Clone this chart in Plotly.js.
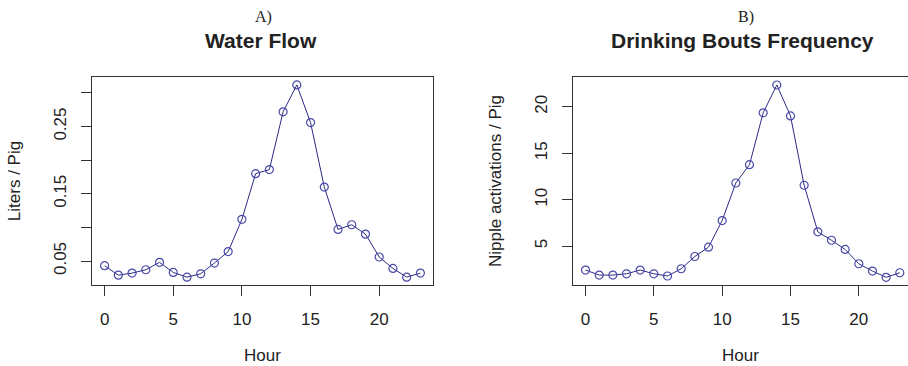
<!DOCTYPE html>
<html><head><meta charset="utf-8">
<script src="https://cdn.plot.ly/plotly-3.0.1.min.js"></script>
<style>html,body{margin:0;padding:0;background:#fff}#chart{width:908px;height:366px}</style>
</head><body><div id="chart"></div>
<script>
const hours = [0,1,2,3,4,5,6,7,8,9,10,11,12,13,14,15,16,17,18,19,20,21,22,23];
const waterFlow = [0.043,0.029,0.032,0.037,0.048,0.033,0.026,0.031,0.047,0.064,0.112,0.180,0.186,0.272,0.312,0.256,0.160,0.097,0.104,0.090,0.056,0.039,0.026,0.032];
const boutsFreq = [2.42,1.88,1.88,2.02,2.42,2.02,1.78,2.56,3.88,4.89,7.75,11.8,13.77,19.36,22.36,19.03,11.56,6.54,5.63,4.64,3.10,2.31,1.64,2.13];
const xTicks = [0,5,10,15,20];
const yTicksA = [0.05,0.10,0.15,0.20,0.25,0.30];
const yTickTextA = ['0.05','','0.15','','0.25',''];
const yTicksB = [5,10,15,20];
const yTickTextB = ['5','10','15','20'];

const lineCol = '#2b2b86';
const markCol = '#4a4aa8';
const txt = '#222';
const fnt = {family:'Liberation Sans, Arial, sans-serif', size:17, color:txt};

function trace(y, xa, ya){
  return {x:hours, y:y, xaxis:xa, yaxis:ya, type:'scatter', mode:'lines+markers',
    line:{color:lineCol, width:1},
    marker:{symbol:'circle-open', size:8, color:markCol, line:{width:1.2, color:markCol}},
    showlegend:false, hoverinfo:'x+y'};
}

const xBase = {tickmode:'array', tickvals:xTicks, ticks:'outside', ticklen:10, tickcolor:'#333',
  showline:true, linecolor:'#333', linewidth:1, mirror:true, showgrid:false, zeroline:false,
  tickfont:fnt, ticklabelstandoff:9,
  title:{text:'Hour', font:fnt, standoff:20}};
const yBase = {tickmode:'array', ticks:'outside', ticklen:10, tickcolor:'#333', tickangle:-90,
  showline:true, linecolor:'#333', linewidth:1, showgrid:false, zeroline:false,
  tickfont:fnt, ticklabelstandoff:8};

const layout = {
  width:908, height:366, margin:{l:0,r:0,t:0,b:0},
  paper_bgcolor:'#fff', plot_bgcolor:'#fff', showlegend:false,
  xaxis: Object.assign({}, xBase, {domain:[0.1013,0.4769], range:[-0.92,23.92], anchor:'y'}),
  yaxis: Object.assign({}, yBase, {domain:[0.2213,0.7896], range:[0.0143,0.3238], anchor:'x',
     tickvals:yTicksA, ticktext:yTickTextA, mirror:true,
     title:{text:'Liters / Pig', font:fnt, standoff:26}}),
  xaxis2: Object.assign({}, xBase, {domain:[0.631,1], range:[-0.92,23.6], anchor:'y2'}),
  yaxis2: Object.assign({}, yBase, {domain:[0.2213,0.7896], range:[0.81,23.22], anchor:'x2',
     tickvals:yTicksB, ticktext:yTickTextB, mirror:false,
     title:{text:'Nipple activations / Pig', font:fnt, standoff:26}}),
  annotations:[
    {text:'A)', xref:'paper', yref:'paper', x:263/908, y:1-17/366, showarrow:false, xanchor:'center', yanchor:'middle',
     font:{family:'Liberation Serif, Times New Roman, serif', size:16, color:txt}},
    {text:'<b>Water Flow</b>', xref:'paper', yref:'paper', x:261/908, y:1-40/366, showarrow:false, xanchor:'center', yanchor:'middle',
     font:{family:'Liberation Sans, Arial, sans-serif', size:21, color:txt}},
    {text:'B)', xref:'paper', yref:'paper', x:746/908, y:1-17/366, showarrow:false, xanchor:'center', yanchor:'middle',
     font:{family:'Liberation Serif, Times New Roman, serif', size:16, color:txt}},
    {text:'<b>Drinking Bouts Frequency</b>', xref:'paper', yref:'paper', x:742/908, y:1-40/366, showarrow:false, xanchor:'center', yanchor:'middle',
     font:{family:'Liberation Sans, Arial, sans-serif', size:21, color:txt}}
  ]
};

Plotly.newPlot('chart', [trace(waterFlow,'x','y'), trace(boutsFreq,'x2','y2')], layout, {staticPlot:true, displayModeBar:false});
</script></body></html>
